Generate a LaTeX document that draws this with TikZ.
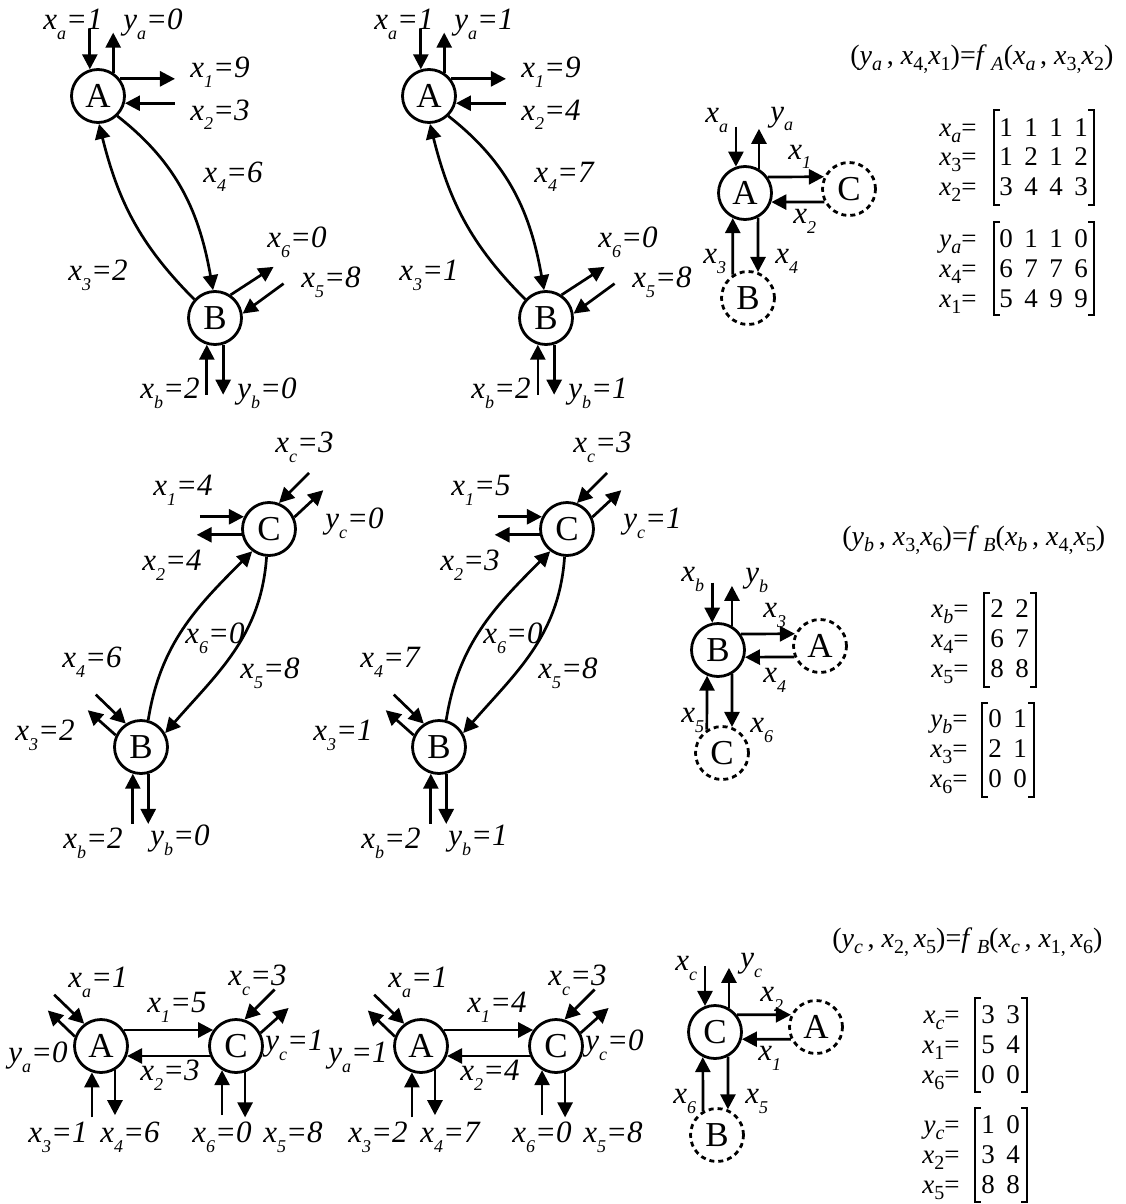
\documentclass[tikz,border=0pt]{standalone}
\usepackage{fontspec}
\setmainfont{Liberation Serif}
\usetikzlibrary{arrows.meta,calc}
\newcommand{\dn}[1]{\raisebox{-5pt}{\fontsize{9}{9}\selectfont #1}}
\newcommand{\mdn}[1]{\raisebox{-3pt}{\fontsize{10}{10}\selectfont #1}}
\newcommand{\iv}[2]{\textit{#1}\mdn{#2}}
\newcommand{\mlab}[2]{\iv{#1}{#2}=}
\newcommand{\gp}{\hspace{5.75pt}}
\newcommand{\brk}[4]{%
  \draw[brk] (#1+6,#3) -- (#1,#3) -- (#1,#4) -- (#1+6,#4);
  \draw[brk] (#2-6,#3) -- (#2,#3) -- (#2,#4) -- (#2-6,#4);}
\tikzset{
  nd/.style={circle, draw, line width=1.4pt, minimum size=26.5pt, inner sep=0pt,
    font=\fontsize{17.5}{17.5}\selectfont},
  gh/.style={nd, dash pattern=on 2.5pt off 2pt},
  ar/.style={line width=1.35pt, -{Triangle[length=7.5pt,width=7.5pt]}},
  lab/.style={anchor=base west, inner sep=0pt, font=\fontsize{15.5}{15.5}\selectfont\itshape},
  mlb/.style={anchor=base east, inner sep=0pt, font=\fontsize{13.5}{13.5}\selectfont},
  mrow/.style={anchor=base west, inner sep=0pt, font=\fontsize{13.5}{13.5}\selectfont},
  eq/.style={anchor=base west, inner sep=0pt, font=\fontsize{14}{14}\selectfont},
  brk/.style={line width=1.2pt},
}
\begin{document}
\begin{tikzpicture}[x=0.5pt,y=-0.5pt]
\fill[white] (0,0) rectangle (1125,1204);
\useasboundingbox (0,0) rectangle (1125,1204);

% ---------- top panels (A-B) ----------
\foreach \s/\n/\ya/\xt/\xf/\xh/\yb in {0/1/0/3/6/2/0, 331/2/1/4/7/1/1}{
\begin{scope}[shift={(\s,0)}]
  \node[nd] (A\n) at (98,96) {A};
  \node[nd] (B\n) at (215,318) {B};
  \coordinate (txa\n) at ($(A\n.107)+(0,-40)$);
  \coordinate (tya\n) at ($(A\n.57)+(0,-40)$);
  \coordinate (txo\n) at ($(A\n.38)+(55,0)$);
  \coordinate (txt\n) at ($(A\n.-15)+(50,0)$);
  \coordinate (txs\n) at ($(B\n.56)+(43,-28)$);
  \coordinate (txv\n) at ($(B\n.9)+(41,-30)$);
  \coordinate (txb\n) at ($(B\n.-107)+(0,50)$);
  \coordinate (tyb\n) at ($(B\n.-73)+(0,50)$);
  \draw[ar] (txa\n) -- (A\n.107);
  \draw[ar] (A\n.57) -- (tya\n);
  \draw[ar] (A\n.38) -- (txo\n);
  \draw[ar] (txt\n) -- (A\n.-15);
  \draw[ar] (A\n.-46) to[out=-38,in=100] (B\n.94);
  \draw[ar] (B\n.138) to[out=135,in=-76] (A\n.-88);
  \draw[ar] (B\n.56) -- (txs\n);
  \draw[ar] (txv\n) -- (B\n.9);
  \draw[ar] (txb\n) -- (B\n.-107);
  \draw[ar] (B\n.-73) -- (tyb\n);
  \node[lab] (tl1\n) at (43,30) {x\dn{a}=1};
  \node[lab] (tl2\n) at (123,30) {y\dn{a}=\ya};
  \node[lab] (tl3\n) at (190,78) {x\dn{1}=9};
  \node[lab] (tl4\n) at (190,120) {x\dn{2}=\xt};
  \node[lab] (tl5\n) at (203,182) {x\dn{4}=\xf};
  \node[lab] (tl6\n) at (68,280) {x\dn{3}=\xh};
  \node[lab] (tl7\n) at (267,247) {x\dn{6}=0};
  \node[lab] (tl8\n) at (301,287) {x\dn{5}=8};
  \node[lab] (tl9\n) at (140,398) {x\dn{b}=2};
  \node[lab] (tl10\n) at (237,398) {y\dn{b}=\yb};
\end{scope}}

% ---------- middle panels (B-C) ----------
\foreach \s/\n/\xo/\xt/\yc/\xf/\xh/\yb in {0/1/4/4/0/6/2/0, 298/2/5/3/1/7/1/1}{
\begin{scope}[shift={(\s,0)}]
  \node[nd] (C\n) at (269,529) {C};
  \node[nd] (D\n) at (141,747) {B};
  \coordinate (mxc\n) at ($(C\n.69)+(30,-30)$);
  \coordinate (myc\n) at ($(C\n.25)+(29,-27)$);
  \coordinate (mxo\n) at ($(C\n.154)+(-44,0)$);
  \coordinate (mxt\n) at ($(C\n.-168)+(-45,0)$);
  \coordinate (mxf\n) at ($(D\n.123)+(-30,-29)$);
  \coordinate (mxh\n) at ($(D\n.155)+(-28,-25)$);
  \coordinate (mxb\n) at ($(D\n.-107)+(0,50)$);
  \coordinate (myb\n) at ($(D\n.-75)+(0,50)$);
  \draw[ar] (mxc\n) -- (C\n.69);
  \draw[ar] (C\n.25) -- (myc\n);
  \draw[ar] (mxo\n) -- (C\n.154);
  \draw[ar] (C\n.-168) -- (mxt\n);
  \draw[ar] (D\n.75) to[out=81,in=-135] (C\n.-127);
  \draw[ar] (C\n.-95) to[out=-94,in=49] (D\n.30);
  \draw[ar] (mxf\n) -- (D\n.123);
  \draw[ar] (D\n.155) -- (mxh\n);
  \draw[ar] (mxb\n) -- (D\n.-107);
  \draw[ar] (D\n.-75) -- (myb\n);
  \node[lab] (ml1\n) at (275,452) {x\dn{c}=3};
  \node[lab] (ml2\n) at (153,495) {x\dn{1}=\xo};
  \node[lab] (ml3\n) at (142,570) {x\dn{2}=\xt};
  \node[lab] (ml4\n) at (325,528) {y\dn{c}=\yc};
  \node[lab] (ml5\n) at (185,643) {x\dn{6}=0};
  \node[lab] (ml6\n) at (240,678) {x\dn{5}=8};
  \node[lab] (ml7\n) at (62,667) {x\dn{4}=\xf};
  \node[lab] (ml8\n) at (15,740) {x\dn{3}=\xh};
  \node[lab] (ml9\n) at (63,848) {x\dn{b}=2};
  \node[lab] (ml10\n) at (150,845) {y\dn{b}=\yb};
\end{scope}}

% ---------- bottom panels (A-C) ----------
\foreach \s/\n/\xo/\yc/\ya/\xt/\xh/\xf in {0/1/5/1/0/3/1/6, 320/2/4/0/1/4/2/7}{
\begin{scope}[shift={(\s,0)}]
  \node[nd] (E\n) at (101,1046) {A};
  \node[nd] (F\n) at (236,1046) {C};
  \coordinate (bxa\n) at ($(E\n.127)+(-30,-29)$);
  \coordinate (bya\n) at ($(E\n.160)+(-27,-26)$);
  \coordinate (bxh\n) at ($(E\n.-109)+(0,45)$);
  \coordinate (bxf\n) at ($(E\n.-60)+(0,45)$);
  \coordinate (bxc\n) at ($(F\n.72)+(30,-30)$);
  \coordinate (byc\n) at ($(F\n.28)+(28,-25)$);
  \coordinate (bxs\n) at ($(F\n.-120)+(0,45)$);
  \coordinate (bxv\n) at ($(F\n.-71)+(0,45)$);
  \draw[ar] (E\n.35) -- (F\n.145);
  \draw[ar] (F\n.-159) -- (E\n.-21);
  \draw[ar] (bxa\n) -- (E\n.127);
  \draw[ar] (E\n.160) -- (bya\n);
  \draw[ar] (bxh\n) -- (E\n.-109);
  \draw[ar] (E\n.-60) -- (bxf\n);
  \draw[ar] (bxc\n) -- (F\n.72);
  \draw[ar] (F\n.28) -- (byc\n);
  \draw[ar] (bxs\n) -- (F\n.-120);
  \draw[ar] (F\n.-71) -- (bxv\n);
  \node[lab] (bl1\n) at (68,987) {x\dn{a}=1};
  \node[lab] (bl2\n) at (147,1012) {x\dn{1}=\xo};
  \node[lab] (bl3\n) at (228,985) {x\dn{c}=3};
  \node[lab] (bl4\n) at (265,1050) {y\dn{c}=\yc};
  \node[lab] (bl5\n) at (8,1062) {y\dn{a}=\ya};
  \node[lab] (bl6\n) at (140,1080) {x\dn{2}=\xt};
  \node[lab] (bl7\n) at (28,1142) {x\dn{3}=\xh};
  \node[lab] (bl8\n) at (100,1142) {x\dn{4}=\xf};
  \node[lab] (bl9\n) at (192,1142) {x\dn{6}=0};
  \node[lab] (bl10\n) at (263,1142) {x\dn{5}=8};
\end{scope}}

% ---------- schema A ----------
\node[nd] (SA) at (745,193) {A};
\node[gh] (SAc) at (849,189) {C};
\node[gh] (SAb) at (748,298) {B};
\coordinate (sxa) at ($(SA.109)+(0,-40)$);
\coordinate (sya) at ($(SA.60)+(0,-40)$);
\draw[ar] (sxa) -- (SA.109);
\draw[ar] (SA.60) -- (sya);
\draw[ar] (SA.35) -- (SAc.154);
\draw[ar] (SAc.-152) -- (SA.-19);
\draw[ar] (SAb.123) -- (SA.-116);
\draw[ar] (SA.-62) -- (SAb.69);
\node[lab] (sal1) at (705,123) {x\dn{a}};
\node[lab] (sal2) at (770,121) {y\dn{a}};
\node[lab] (sal3) at (788,159) {x\dn{1}};
\node[lab] (sal4) at (793,223) {x\dn{2}};
\node[lab] (sal5) at (703,263) {x\dn{3}};
\node[lab] (sal6) at (775,263) {x\dn{4}};

% ---------- schema B ----------
\node[nd] (SB) at (718,650) {B};
\node[gh] (SBa) at (820,646) {A};
\node[gh] (SBc) at (722,753) {C};
\coordinate (sxb) at ($(SB.102)+(0,-40)$);
\coordinate (syb) at ($(SB.60)+(0,-40)$);
\draw[ar] (sxb) -- (SB.102);
\draw[ar] (SB.60) -- (syb);
\draw[ar] (SB.35) -- (SBa.154);
\draw[ar] (SBa.-157) -- (SB.-15);
\draw[ar] (SBc.123) -- (SB.-113);
\draw[ar] (SB.-60) -- (SBc.69);
\node[lab] (sbl1) at (681,581) {x\dn{b}};
\node[lab] (sbl2) at (745,582) {y\dn{b}};
\node[lab] (sbl3) at (763,617) {x\dn{3}};
\node[lab] (sbl4) at (763,682) {x\dn{4}};
\node[lab] (sbl5) at (681,722) {x\dn{5}};
\node[lab] (sbl6) at (750,732) {x\dn{6}};

% ---------- schema C ----------
\node[nd] (SC) at (715,1032) {C};
\node[gh] (SCa) at (816,1027) {A};
\node[gh] (SCb) at (717,1135) {B};
\coordinate (sxc) at ($(SC.111)+(0,-40)$);
\coordinate (syc) at ($(SC.60)+(0,-40)$);
\draw[ar] (sxc) -- (SC.111);
\draw[ar] (SC.60) -- (syc);
\draw[ar] (SC.38) -- (SCa.154);
\draw[ar] (SCa.-154) -- (SC.-15);
\draw[ar] (SCb.120) -- (SC.-116);
\draw[ar] (SC.-62) -- (SCb.67);
\node[lab] (scl1) at (675,970) {x\dn{c}};
\node[lab] (scl2) at (740,967) {y\dn{c}};
\node[lab] (scl3) at (760,1001) {x\dn{2}};
\node[lab] (scl4) at (758,1060) {x\dn{1}};
\node[lab] (scl5) at (673,1103) {x\dn{6}};
\node[lab] (scl6) at (745,1103) {x\dn{5}};

% ---------- equations ----------
\node[eq] (eqA) at (850,65) {(\iv{y}{\textit{a}}\,,\ \iv{x}{4,}\iv{x}{1})=\textit{f}\,\mdn{\textit{A}}(\iv{x}{\textit{a}}\,,\ \iv{x}{3,}\iv{x}{2})};
\node[eq] (eqB) at (842,545) {(\iv{y}{\textit{b}}\,,\ \iv{x}{3,}\iv{x}{6})=\textit{f}\,\mdn{\textit{B}}(\iv{x}{\textit{b}}\,,\ \iv{x}{4,}\iv{x}{5})};
\node[eq] (eqC) at (832,947) {(\iv{y}{\textit{c}}\,,\ \iv{x}{2,}\,\iv{x}{5})=\textit{f}\,\mdn{\textit{B}}(\iv{x}{\textit{c}}\,,\ \iv{x}{1,}\,\iv{x}{6})};

% ---------- matrices A ----------
\node[mlb] (mA1) at (977,136) {\mlab{x}{\textit{a}}};
\node[mlb] (mA2) at (977,165) {\mlab{x}{3}};
\node[mlb] (mA3) at (977,195) {\mlab{x}{2}};
\node[mlb] (mA4) at (977,247) {\mlab{y}{\textit{a}}};
\node[mlb] (mA5) at (977,277) {\mlab{x}{4}};
\node[mlb] (mA6) at (977,307) {\mlab{x}{1}};
\node[mrow] (rA1) at (999,136) {1\gp1\gp1\gp1};
\node[mrow] (rA2) at (999,165) {1\gp2\gp1\gp2};
\node[mrow] (rA3) at (999,195) {3\gp4\gp4\gp3};
\node[mrow] (rA4) at (999,247) {0\gp1\gp1\gp0};
\node[mrow] (rA5) at (999,277) {6\gp7\gp7\gp6};
\node[mrow] (rA6) at (999,307) {5\gp4\gp9\gp9};
\brk{994}{1094}{110}{205}
\brk{994}{1094}{222}{315}

% ---------- matrices B ----------
\node[mlb] (mB1) at (969,617) {\mlab{x}{\textit{b}}};
\node[mlb] (mB2) at (969,647) {\mlab{x}{4}};
\node[mlb] (mB3) at (969,677) {\mlab{x}{5}};
\node[mlb] (mB4) at (968,727) {\mlab{y}{\textit{b}}};
\node[mlb] (mB5) at (968,757) {\mlab{x}{3}};
\node[mlb] (mB6) at (968,787) {\mlab{x}{6}};
\node[mrow] (rB1) at (990,617) {2\gp2};
\node[mrow] (rB2) at (990,647) {6\gp7};
\node[mrow] (rB3) at (990,677) {8\gp8};
\node[mrow] (rB4) at (988,727) {0\gp1};
\node[mrow] (rB5) at (988,757) {2\gp1};
\node[mrow] (rB6) at (988,787) {0\gp0};
\brk{984}{1036}{593}{687}
\brk{982}{1034}{703}{797}

% ---------- matrices C ----------
\node[mlb] (mC1) at (960,1023) {\mlab{x}{\textit{c}}};
\node[mlb] (mC2) at (960,1053) {\mlab{x}{1}};
\node[mlb] (mC3) at (960,1083) {\mlab{x}{6}};
\node[mlb] (mC4) at (960,1133) {\mlab{y}{\textit{c}}};
\node[mlb] (mC5) at (960,1163) {\mlab{x}{2}};
\node[mlb] (mC6) at (960,1193) {\mlab{x}{5}};
\node[mrow] (rC1) at (981,1023) {3\gp3};
\node[mrow] (rC2) at (981,1053) {5\gp4};
\node[mrow] (rC3) at (981,1083) {0\gp0};
\node[mrow] (rC4) at (981,1133) {1\gp0};
\node[mrow] (rC5) at (981,1163) {3\gp4};
\node[mrow] (rC6) at (981,1193) {8\gp8};
\brk{975}{1027}{998}{1092}
\brk{975}{1027}{1108}{1202}
\end{tikzpicture}
\end{document}
